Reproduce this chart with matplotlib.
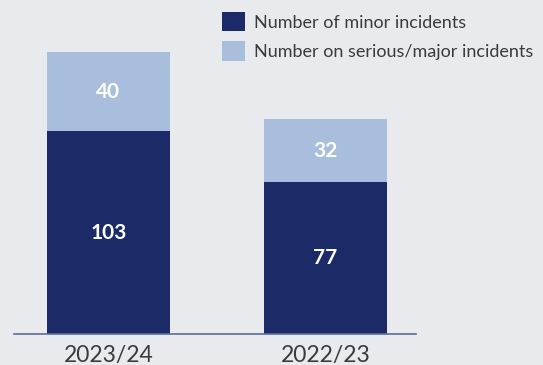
import numpy as np
import matplotlib.pyplot as plt
from matplotlib.patches import Patch

# Incident counts by financial year
years = ["2023/24", "2022/23"]
minor = [103, 77]
serious = [40, 32]
series_labels = ["Number of minor incidents", "Number on serious/major incidents"]

NAVY = "#1c2a68"
LIGHT = "#a9bedd"
BG = "#e9eaee"
TEXT = "#3b3b3b"

plt.rcParams["font.family"] = ["Lato", "DejaVu Sans"]

fig = plt.figure(figsize=(5.43, 3.65), dpi=100, facecolor=BG)
W, H = 543, 365
ax = fig.add_axes([14 / W, (H - 334) / H, 402 / W, 334 / H])
ax.set_facecolor(BG)

x = np.arange(len(years))
width = 0.567
ax.bar(x, minor, width, color=NAVY, zorder=2)
ax.bar(x, serious, width, bottom=minor, color=LIGHT, zorder=2)

for xi, m, s in zip(x, minor, serious):
    ax.text(xi, m / 2, str(m), ha="center", va="center", color="white",
            fontsize=15, fontweight="bold")
    ax.text(xi, m + s / 2, str(s), ha="center", va="center", color="white",
            fontsize=15, fontweight="bold")

ax.set_xlim(-0.435, 1.417)
ax.set_ylim(0, 169.5)
ax.set_xticks(x)
ax.set_xticklabels(years, fontsize=16.5, color=TEXT)
ax.tick_params(axis="x", length=0, pad=8)
ax.set_yticks([])
for side in ["top", "right", "left"]:
    ax.spines[side].set_visible(False)
ax.spines["bottom"].set_color("#5d6c9c")
ax.spines["bottom"].set_linewidth(1.2)

handles = [Patch(facecolor=NAVY), Patch(facecolor=LIGHT)]
fig.legend(handles, series_labels, loc="upper left",
           bbox_to_anchor=(222 / W, 1 - 12 / H), frameon=False,
           fontsize=13, labelcolor=TEXT, handlelength=1.27, handleheight=1.27,
           handletextpad=0.5, labelspacing=0.55, borderpad=0, borderaxespad=0)

fig.savefig("out.png", dpi=100, facecolor=BG)
